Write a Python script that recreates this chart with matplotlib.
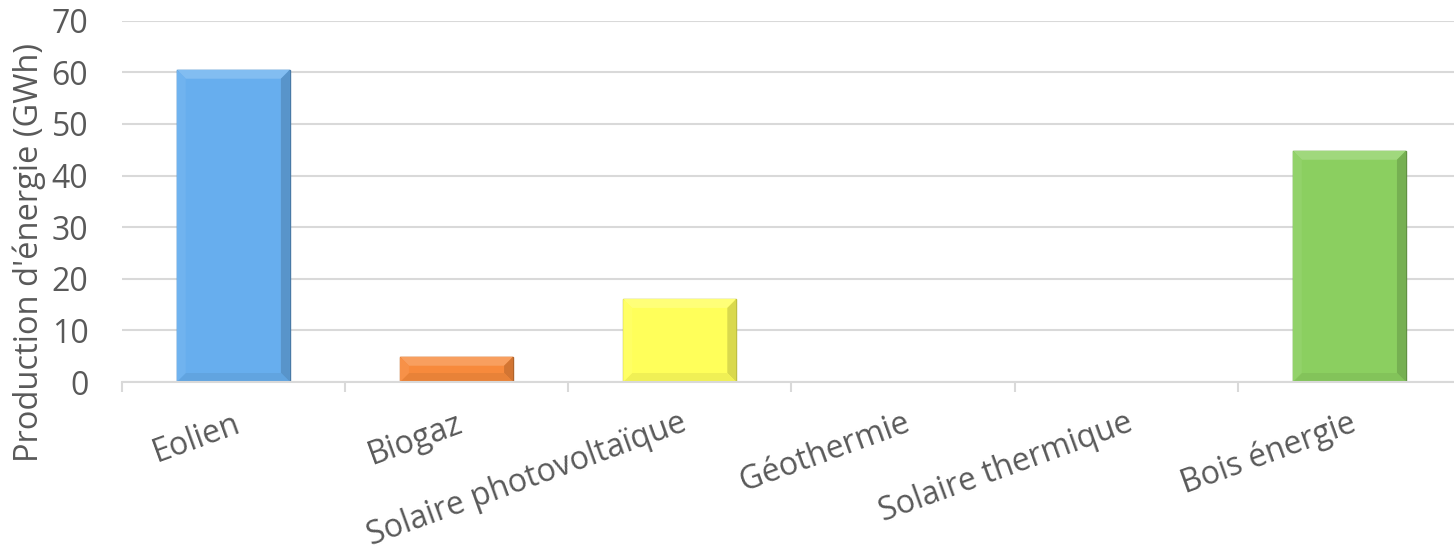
import matplotlib
matplotlib.use('Agg')
import matplotlib.pyplot as plt
import matplotlib.colors as mcolors
from matplotlib.patches import Polygon

# Energy production by source (GWh)
categories = ['Eolien', 'Biogaz', 'Solaire photovoltaïque', 'Géothermie',
              'Solaire thermique', 'Bois énergie']
production = [60.5, 4.9, 16.1, 0, 0, 44.8]
fill_colors = ['#67AEEE', '#F78A3C', '#FFFF5A', '#67AEEE', '#67AEEE', '#8BCF60']
y_ticks = [0, 10, 20, 30, 40, 50, 60, 70]

plt.rcParams['font.family'] = ['Open Sans', 'DejaVu Sans']
text_color = '#595959'
grid_color = '#D9D9D9'


def shade(color, amount):
    """Blend a colour with white (amount > 0) or black (amount < 0)."""
    r, g, b = mcolors.to_rgb(color)
    if amount >= 0:
        return (r + (1 - r) * amount, g + (1 - g) * amount, b + (1 - b) * amount)
    a = -amount
    return (r * (1 - a), g * (1 - a), b * (1 - a))


fig = plt.figure(figsize=(14.54, 5.53), dpi=100)
ax = fig.add_axes([0.0837, 0.3092, 0.9211, 0.6534])

ax.set_xlim(-0.5, len(categories) - 0.5)
ax.set_ylim(0, 70)

x = list(range(len(categories)))
bar_width = 0.507
bevel = 9  # pixels
for i, v in enumerate(production):
    if v <= 0:
        continue
    bars = ax.bar(i, v, width=bar_width, color=fill_colors[i],
                  edgecolor=shade(fill_colors[i], -0.3), linewidth=1.0, zorder=3)
    # soft bevel faces, built from the bar geometry in display space
    r = bars[0]
    (x0, y0) = ax.transData.transform((r.get_x(), 0))
    (x1, y1) = ax.transData.transform((r.get_x() + r.get_width(), r.get_height()))
    b = min(bevel, (y1 - y0) / 2.5)
    ix0, ix1, iy0, iy1 = x0 + b, x1 - b, y0 + b, y1 - b
    faces = [
        ([(x0, y1), (x1, y1), (ix1, iy1), (ix0, iy1)], 0.18),    # top
        ([(x1, y0), (x1, y1), (ix1, iy1), (ix1, iy0)], -0.15),   # right
        ([(x0, y0), (x1, y0), (ix1, iy0), (ix0, iy0)], -0.06),   # bottom
        ([(x0, y0), (x0, y1), (ix0, iy1), (ix0, iy0)], 0.06),    # left
    ]
    inv = ax.transData.inverted()
    for pts, amt in faces:
        ax.add_patch(Polygon(inv.transform(pts), closed=True,
                             facecolor=shade(fill_colors[i], amt),
                             edgecolor='none', zorder=3.5))

ax.set_yticks(y_ticks)
ax.grid(True, axis='y', color=grid_color, linewidth=1.5, zorder=0)

for side in ['top', 'right', 'left']:
    ax.spines[side].set_visible(False)
ax.spines['bottom'].set_color(grid_color)
ax.spines['bottom'].set_linewidth(1.5)
ax.spines['bottom'].set_zorder(4)

# category labels at centres, boundary tick marks as minor ticks
ax.set_xticks(x)
ax.set_xticklabels(categories, rotation=20, ha='right', va='top',
                   rotation_mode='anchor', fontsize=23, color=text_color)
ax.set_xticks([i - 0.5 for i in range(len(categories) + 1)], minor=True)
ax.tick_params(axis='x', which='major', length=0, pad=18)
ax.tick_params(axis='x', which='minor', length=7, width=1.5, color=grid_color)
ax.tick_params(axis='y', length=0, pad=24, labelsize=23, labelcolor=text_color)

fig.text(29 / 1454, 0.544, "Production d'énergie (GWh)", rotation=90,
         ha='center', va='center', fontsize=23.5, color=text_color)

fig.savefig('out.png', dpi=100)
